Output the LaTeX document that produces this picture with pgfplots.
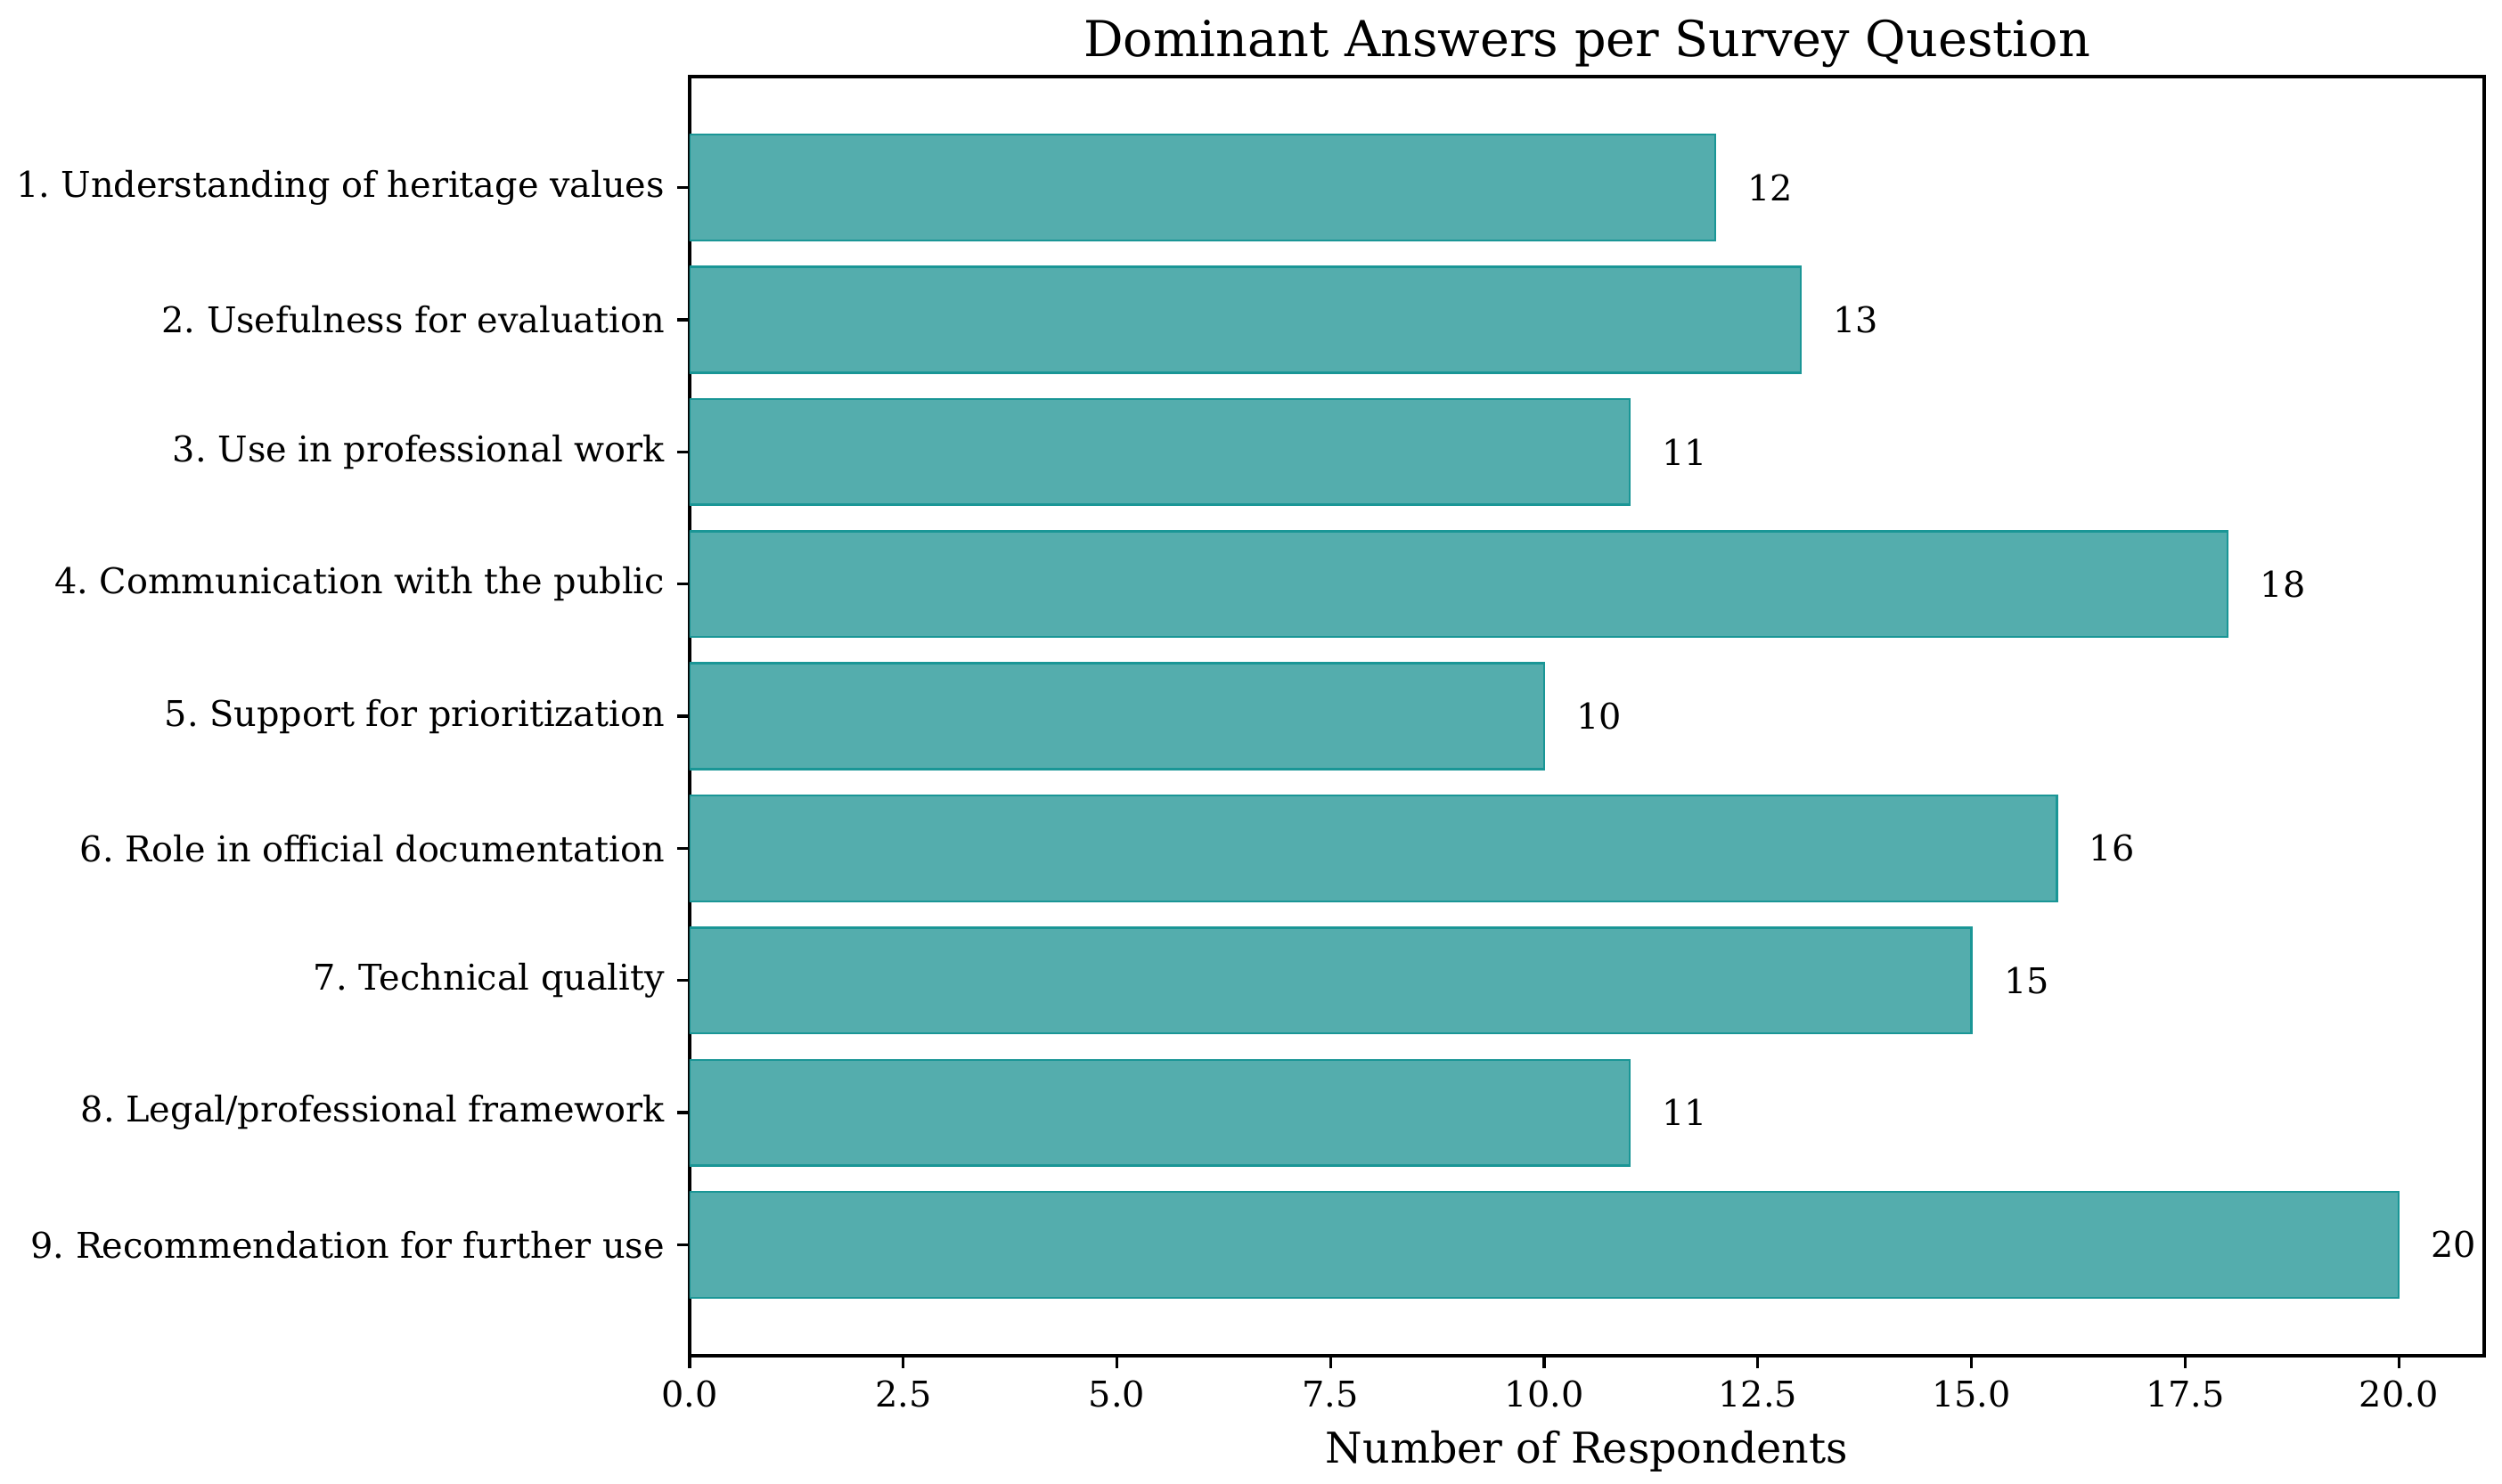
\documentclass[border=0pt]{standalone}
\usepackage{fontspec}
\setmainfont{DejaVu Serif}
\usepackage{pgfplots}
\pgfplotsset{compat=1.18}
\definecolor{barfill}{RGB}{84,173,173}
\definecolor{baredge}{RGB}{26,150,150}
\frenchspacing

\begin{document}
\begin{tikzpicture}
% page frame: 2808 x 1666 px at 0.25bp per px
\useasboundingbox (-193.5bp,-36bp) rectangle (508.5bp,380.5bp);
\begin{axis}[
  at={(0,0)}, anchor=south west,
  scale only axis, width=503.5bp, height=359bp,
  clip mode=individual,
  xbar, bar width=0.8,
  xmin=0, xmax=21,
  ymin=-0.84, ymax=8.84, y dir=reverse,
  ytick={0,...,8},
  yticklabels={1. Understanding of heritage values,
    2. Usefulness for evaluation,
    3. Use in professional work,
    4. Communication with the public,
    5. Support for prioritization,
    6. Role in official documentation,
    7. Technical quality,
    8. Legal/professional framework,
    9. Recommendation for further use},
  xtick={0,2.5,...,20},
  xticklabel style={/pgf/number format/.cd, fixed, fixed zerofill, precision=1, assume math mode=true},
  tick label style={font=\fontsize{9.95bp}{12bp}\selectfont},
  xtick pos=bottom, ytick pos=left,
  tick align=outside, major tick length=3.5bp,
  tick style={black, line width=0.8bp},
  axis line style={line width=0.8bp},
  xlabel={Number of Respondents},
  xlabel style={at={(axis description cs:0.5,0)}, anchor=base, yshift=-30bp,
    font=\fontsize{11.9bp}{14bp}\selectfont},
  nodes near coords={\pgfmathprintnumber[assume math mode=true]{\pgfplotspointmeta}},
  point meta=x,
  nodes near coords style={anchor=west, xshift=5.5bp, black,
    font=\fontsize{9.95bp}{12bp}\selectfont},
]
\addplot[fill=barfill, draw=baredge, line width=0.6bp] coordinates {
  (12,0) (13,1) (11,2) (18,3) (10,4) (16,5) (15,6) (11,7) (20,8)};
\node[anchor=base, yshift=5.75bp, font=\fontsize{13.9bp}{16bp}\selectfont]
  at (axis description cs:0.5,1) {Dominant Answers per Survey Question};
\end{axis}
\end{tikzpicture}
\end{document}
